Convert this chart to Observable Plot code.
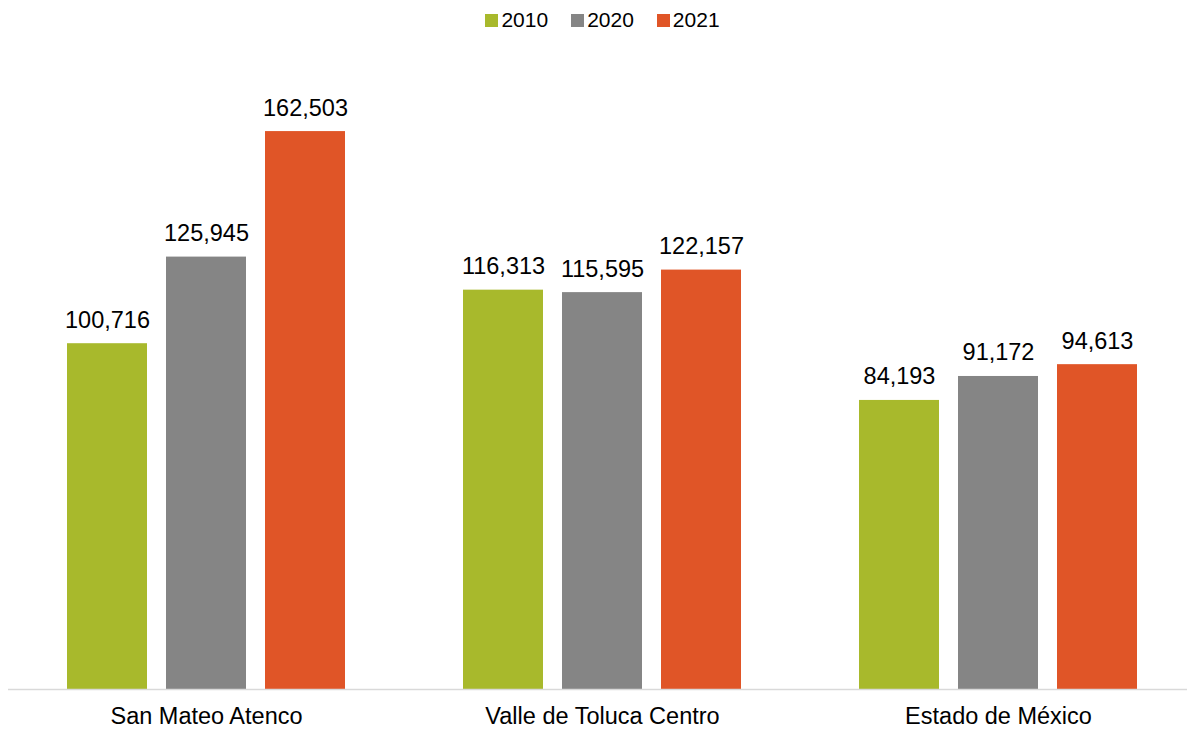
<!DOCTYPE html>
<html>
<head>
<meta charset="utf-8">
<script src="https://cdn.jsdelivr.net/npm/d3@7"></script>
<script src="https://cdn.jsdelivr.net/npm/@observablehq/plot@0.6"></script>
<style>
  html, body { margin: 0; padding: 0; background: #fff; }
  body { width: 1187px; height: 729px; overflow: hidden; font-family: "Liberation Sans", Arial, sans-serif; }
  #legend { height: 40px; display: flex; justify-content: center; align-items: center; gap: 23px; font-size: 21px; color: #000; padding-left: 18px; box-sizing: border-box; }
  #legend .item { display: flex; align-items: center; gap: 3px; }
  #legend .sw { width: 13px; height: 13px; display: inline-block; }
  svg { display: block; }
</style>
</head>
<body>
<div id="legend"></div>
<div id="chart"></div>
<script>
const categories = ["San Mateo Atenco", "Valle de Toluca Centro", "Estado de México"];
const years = ["2010", "2020", "2021"];
const values2010 = [100716, 116313, 84193];
const values2020 = [125945, 115595, 91172];
const values2021 = [162503, 122157, 94613];
const colors = ["#A8B92C", "#858585", "#E05527"];

const series = [values2010, values2020, values2021];
const data = [];
categories.forEach((c, i) => {
  years.forEach((y, j) => data.push({category: c, year: y, value: series[j][i]}));
});

const fmt = d3.format(",");

const legend = document.getElementById("legend");
years.forEach((y, j) => {
  const it = document.createElement("div");
  it.className = "item";
  it.innerHTML = `<span class="sw" style="background:${colors[j]}"></span><span>${y}</span>`;
  legend.appendChild(it);
});

const chart = Plot.plot({
  width: 1187,
  height: 689,
  marginTop: 31,
  marginBottom: 40,
  marginLeft: 8,
  marginRight: -9,
  style: {fontFamily: "Liberation Sans, Arial, sans-serif", background: "#fff"},
  fx: {domain: categories, padding: 0, label: null, axis: null},
  x: {domain: years, paddingInner: 0.192, paddingOuter: 0.596, axis: null},
  y: {domain: [0, 180000], axis: null},
  color: {domain: years, range: colors},
  marks: [
    Plot.barY(data, {fx: "category", x: "year", y: "value", fill: "year"}),
    Plot.ruleY([0], {stroke: "#D9D9D9", strokeWidth: 1.5}),
    Plot.text(data, {fx: "category", x: "year", y: "value", text: d => fmt(d.value), lineAnchor: "bottom", dy: -16, fontSize: 23.5, fill: "#000"}),
    Plot.axisFx({anchor: "bottom", tickSize: 0, tickPadding: 17.5, fontSize: 23.5, label: null, color: "#000"})
  ]
});
document.getElementById("chart").appendChild(chart);
</script>
</body>
</html>
